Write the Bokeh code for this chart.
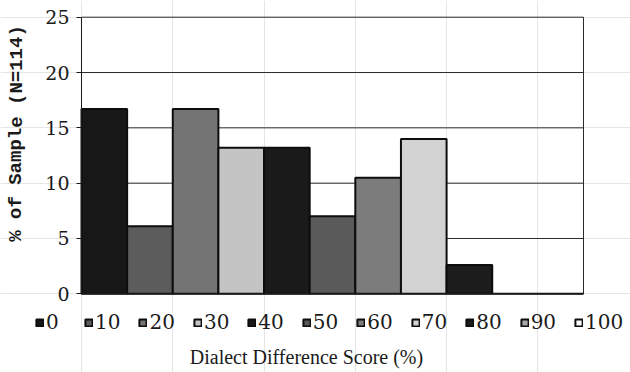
from bokeh.plotting import figure
from bokeh.models import (ColumnDataSource, Legend, LegendItem, Label,
                          Range1d, FixedTicker, LinearAxis)
from bokeh.embed import file_html
from bokeh.resources import INLINE

# Dialect difference score bins (%) and share of the sample (N=114) in each
scores = ["0", "10", "20", "30", "40", "50", "60", "70", "80", "90", "100"]
pct_of_sample = [16.7, 6.1, 16.7, 13.2, 13.2, 7.0, 10.5, 14.0, 2.6, 0.0, 0.0]
bar_colors = ["#171717", "#5c5c5c", "#747474", "#c4c4c4", "#1a1a1a",
              "#5a5a5a", "#7c7c7c", "#d2d2d2", "#1c1c1c", "#a8a8a8", "#ffffff"]
y_ticks = [0, 5, 10, 15, 20, 25]

# canvas size and where the plotting box sits on it (pixels)
W, H = 630, 372
BOX_L, BOX_R, BOX_T, BOX_B = 81, 583, 16.7, 293.3
n = len(scores)
y_max = 25

# the frame covers the whole canvas; ranges are chosen so that the box
# [0, n] x [0, y_max] lands at the pixel box above
sx = (BOX_R - BOX_L) / n
sy = (BOX_B - BOX_T) / y_max
x_range = Range1d(-BOX_L / sx, (W - BOX_L) / sx)
y_range = Range1d(-(H - BOX_B) / sy, y_max + BOX_T / sy)

def dx(px):
    return (px - BOX_L) / sx

def dy(py):
    return (BOX_B - py) / sy

src = ColumnDataSource(dict(
    x=[i + 0.5 for i in range(n)],
    top=pct_of_sample,
    color=bar_colors,
    label=scores,
))

p = figure(width=W, height=H, x_range=x_range, y_range=y_range,
           output_backend="svg", toolbar_location=None,
           x_axis_location=None, y_axis_location=None, min_border=0)
p.background_fill_color = "white"
p.border_fill_color = "white"
p.outline_line_color = None

# horizontal gridlines across the box (the top one is the box's upper edge)
grid_src = ColumnDataSource(dict(x0=[0] * len(y_ticks), x1=[n] * len(y_ticks),
                                 y=y_ticks))
p.segment(x0="x0", x1="x1", y0="y", y1="y", source=grid_src,
          line_color="#2a2a2a", line_width=1)
# right edge of the box
p.segment(x0=[n], x1=[n], y0=[0], y1=[y_max], line_color="#2a2a2a", line_width=1)

bars = p.vbar(x="x", width=1.0, top="top", bottom=0, source=src,
              fill_color="color", line_color="#0d0d0d", line_width=2)

yaxis = LinearAxis(fixed_location=0, bounds=(0, y_max),
                   ticker=FixedTicker(ticks=y_ticks),
                   axis_line_color="#1a1a1a", major_tick_line_color="#1a1a1a",
                   major_tick_out=5, major_tick_in=0, minor_tick_line_color=None,
                   major_label_standoff=7,
                   major_label_text_font="DejaVu Serif",
                   major_label_text_font_size="19px",
                   major_label_text_color="#1a1a1a")
p.add_layout(yaxis, "left")

xaxis = LinearAxis(fixed_location=0, bounds=(0, n), ticker=FixedTicker(ticks=[]),
                   axis_line_color="#1a1a1a", major_tick_line_color=None,
                   minor_tick_line_color=None, major_label_text_font_size="0px")
p.add_layout(xaxis, "below")

p.add_layout(Label(x=dx(16), y=dy(133), text="% of Sample (N=114)",
                   angle=1.5707963, text_align="center", text_baseline="middle",
                   text_font="Liberation Mono", text_font_style="bold",
                   text_font_size="19px", text_color="#1a1a1a"))

p.add_layout(Label(x=dx(306), y=dy(356), text="Dialect Difference Score (%)",
                   text_align="center", text_baseline="middle",
                   text_font="Liberation Serif", text_font_size="20px",
                   text_color="#1a1a1a"))

# legend of score bins, one row under the axis
items = [LegendItem(label=s, renderers=[bars], index=i) for i, s in enumerate(scores)]
legend = Legend(items=items, orientation="horizontal", location=(35, H - 334),
                glyph_width=9, glyph_height=9, label_standoff=2, spacing=18,
                padding=0, margin=0, border_line_color=None,
                background_fill_alpha=0, label_height=20,
                label_text_font="DejaVu Serif", label_text_font_size="20px",
                label_text_color="#1a1a1a", label_text_baseline="middle")
p.add_layout(legend, "center")

open("out.html", "w").write(file_html(p, INLINE))
